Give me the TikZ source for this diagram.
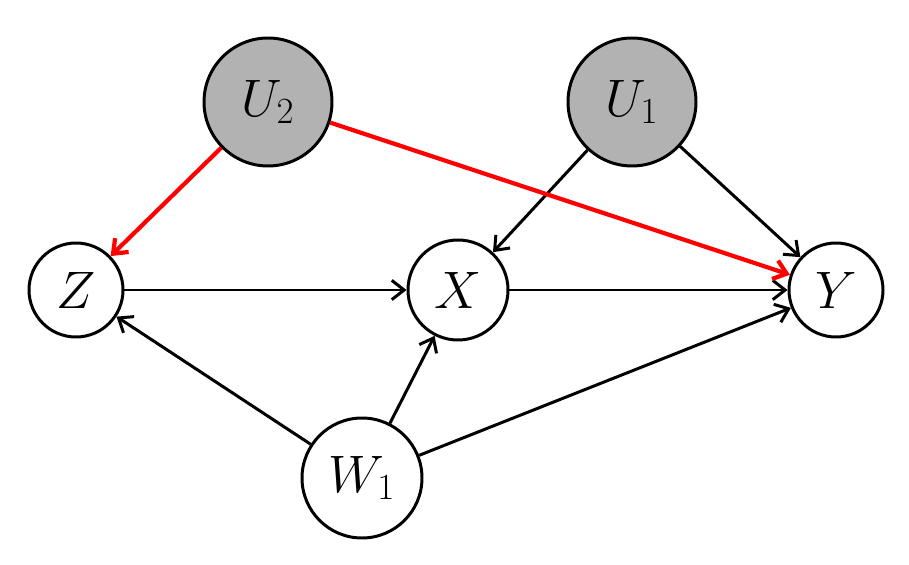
\RequirePackage{fix-cm}
\documentclass[tikz,border=0pt]{standalone}
\usepackage{amsmath}
\usetikzlibrary{arrows.meta}

\tikzset{
    var/.style={circle, draw, line width=1.7pt, fill=white, inner sep=0pt,
        font=\fontsize{30}{34}\selectfont},
    latent/.style={var, fill=gray!60},
    edge/.style={line width=1.7pt, -{Straight Barb[length=7pt,width=11pt]}},
    bias/.style={edge, red, line width=2.4pt}
}

\begin{document}
\begin{tikzpicture}

        \useasboundingbox (0,0) rectangle (18.18,11.28);

        \node[var, minimum size=1.88cm] (Z) at (1.52,5.48) {$Z$};
        \node[var, minimum size=2cm] (X) at (9.16,5.48) {$X$};
        \node[var, minimum size=1.88cm] (Y) at (16.72,5.48) {$Y$};
        \node[latent, minimum size=2.56cm] (U2) at (5.36,9.24) {$U_2$};
        \node[latent, minimum size=2.56cm] (U1) at (12.64,9.24) {$U_1$};
        \node[var, minimum size=2.4cm] (W1) at (7.24,1.72) {$W_1$};

        \draw[edge]
            (Z) -- (X);
        \draw[edge]
            (X) -- (Y);
        \draw[edge]
            (U1) -- (X);
        \draw[edge]
            (U1) -- (Y);
        \draw[edge]
            (W1) -- (Z);
        \draw[edge]
            (W1) -- (X);
        \draw[edge]
            (W1) -- (Y);

        \draw[bias]
            (U2) -- (Z);
        \draw[bias]
            (U2) -- (Y);

\end{tikzpicture}
\end{document}
